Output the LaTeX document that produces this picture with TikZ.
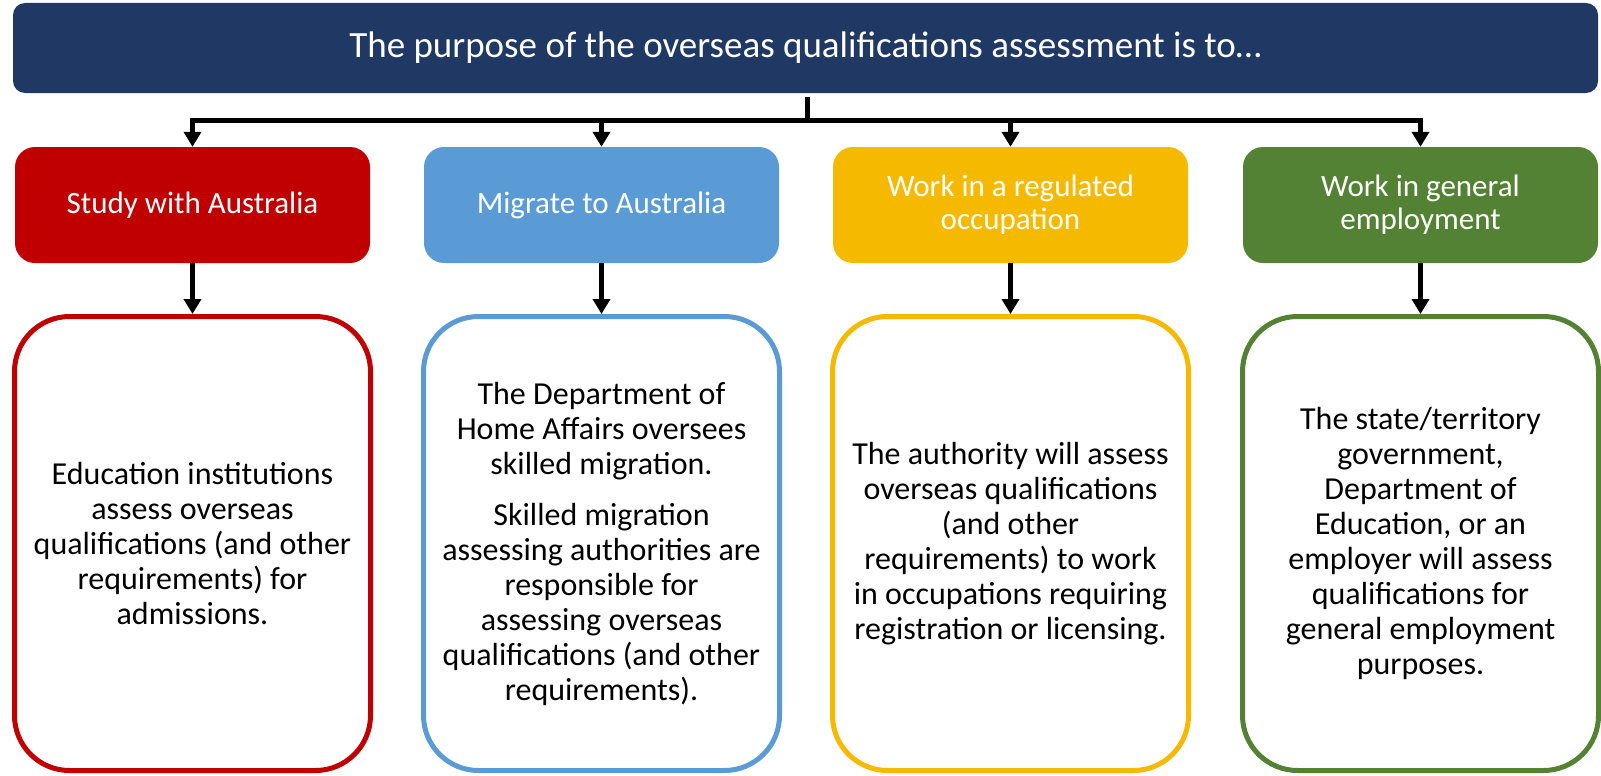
\documentclass[tikz,border=0pt]{standalone}
\usepackage{fontspec}
\setmainfont{Carlito}
\usetikzlibrary{arrows.meta}

\begin{document}
\begin{tikzpicture}[x=1pt,y=-1pt]
  % Colour definitions
  \definecolor{navy}{RGB}{32,56,100}      % title bar
  \definecolor{study}{RGB}{192,0,0}       % red
  \definecolor{migrate}{RGB}{91,155,213}  % light blue
  \definecolor{regulated}{RGB}{245,185,0} % gold
  \definecolor{general}{RGB}{84,130,53}   % green

  \tikzset{
    titlebox/.style={fill=navy, rounded corners=12pt, minimum width=1585pt,
      minimum height=90pt, text=white, font=\fontsize{37}{44}\selectfont},
    headbox/.style={rounded corners=20pt, minimum width=355pt, minimum height=116pt,
      text=white, align=center, font=\fontsize{31}{33}\selectfont},
    infobox/.style={line width=5pt, fill=white, rounded corners=55pt,
      minimum width=356pt, minimum height=454pt, align=center,
      font=\fontsize{32}{35}\selectfont},
    arrow/.style={line width=5pt, -{Triangle[length=15pt,width=17pt]}}
  }

  \useasboundingbox (0,0) rectangle (1601,776);

  % Helper macro  {name}{x centre}{colour}{heading}{detail}
  \newcommand{\purposecol}[5]{%
    % Coloured heading box
    \node[headbox, fill=#3] (#1) at (#2,205) {#4};
    % Outlined detail box
    \node[infobox, draw=#3] (#1info) at (#2,543.5) {#5};
    % Heading to detail
    \draw[arrow] (#1) -- (#1info);}

  % Title bar
  \node[titlebox] (purpose) at (805.5,48)
    {The purpose of the overseas qualifications assessment is to…};

  % Four purposes
  %            name       x       colour
  \purposecol{study}{192.5}{study}{Study with Australia}
    {Education institutions\\assess overseas\\qualifications (and other\\requirements) for\\admissions.}
  \purposecol{migrate}{601.5}{migrate}{Migrate to Australia}
    {The Department of\\Home Affairs oversees\\skilled migration.\\[16pt]Skilled migration\\assessing authorities are\\responsible for\\assessing overseas\\qualifications (and other\\requirements).}
  \purposecol{regulated}{1010.5}{regulated}{Work in a regulated\\occupation}
    {The authority will assess\\overseas qualifications\\(and other\\requirements) to work\\in occupations requiring\\registration or licensing.}
  \purposecol{general}{1420.5}{general}{Work in general\\employment}
    {The state/territory\\government,\\Department of\\Education, or an\\employer will assess\\qualifications for\\general employment\\purposes.}

  % Branching connectors
  \coordinate (hub) at (807,120);
  \draw[line width=5pt] (purpose.south) ++(1.5,4) -- (hub);
  \foreach \n in {study,migrate,regulated,general}
    \draw[arrow] (hub) -| (\n.north);
\end{tikzpicture}
\end{document}
